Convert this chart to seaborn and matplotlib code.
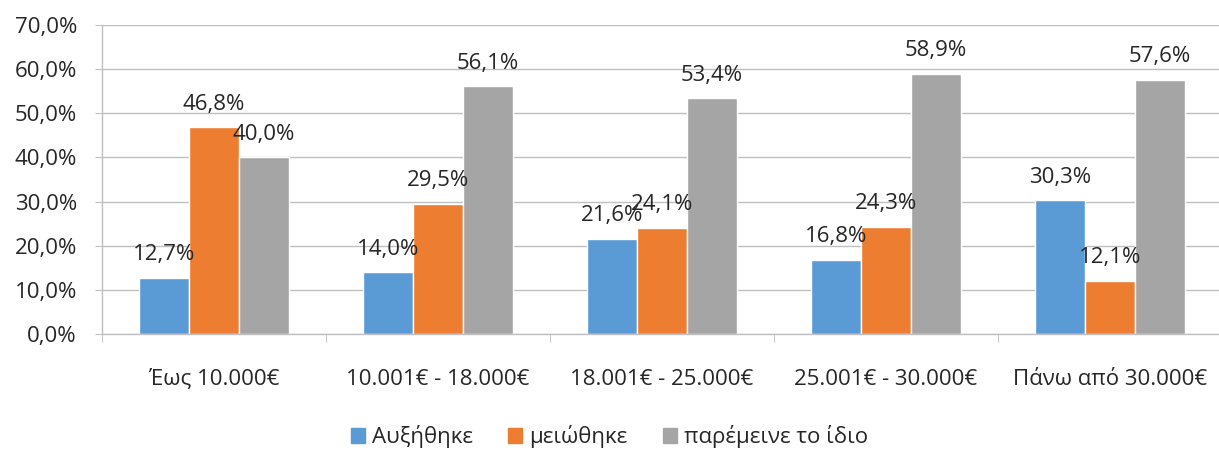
import pandas as pd
import matplotlib.pyplot as plt
import seaborn as sns
from matplotlib.ticker import FuncFormatter, FixedLocator

# Data
categories = ["Έως 10.000€", "10.001€ - 18.000€", "18.001€ - 25.000€",
              "25.001€ - 30.000€", "Πάνω από 30.000€"]
series_names = ["Αυξήθηκε", "μειώθηκε", "παρέμεινε το ίδιο"]
increased = [12.7, 14.0, 21.6, 16.8, 30.3]
decreased = [46.8, 29.5, 24.1, 24.3, 12.1]
same = [40.0, 56.1, 53.4, 58.9, 57.6]
colors = ["#5B9BD5", "#ED7D31", "#A5A5A5"]

rows = []
for name, vals in zip(series_names, [increased, decreased, same]):
    for cat, v in zip(categories, vals):
        rows.append({"category": cat, "series": name, "value": v})
df = pd.DataFrame(rows)

sns.set_style("white")
plt.rcParams["font.family"] = ["Open Sans", "DejaVu Sans"]
FS = 16

fig = plt.figure(figsize=(12.19, 4.55), dpi=100)
ax = fig.add_axes([102 / 1219, 1 - 334 / 455, 1120 / 1219, (334 - 25) / 455])

sns.barplot(data=df, x="category", y="value", hue="series", order=categories,
            hue_order=series_names, palette=colors, width=0.67, gap=0,
            saturation=1, ax=ax, legend=False)

for cont in ax.containers:
    ax.bar_label(cont, labels=[f"{v:.1f}%".replace(".", ",") for v in cont.datavalues],
                 padding=9, fontsize=FS)

ax.set_ylim(0, 70)
ax.set_xlim(-0.5, 4.5)
ax.set_yticks(range(0, 71, 10))
ax.yaxis.set_major_formatter(FuncFormatter(lambda v, p: f"{v:.1f}%".replace(".", ",")))
ax.yaxis.grid(True, color="#BFBFBF", linewidth=1)
ax.set_axisbelow(True)
ax.tick_params(axis="y", length=5, pad=13, color="#BFBFBF", labelsize=FS,
               direction="out", left=True)
ax.tick_params(axis="x", which="major", length=0, pad=25, labelsize=FS)
ax.xaxis.set_minor_locator(FixedLocator([-0.5, 0.5, 1.5, 2.5, 3.5, 4.5]))
ax.tick_params(axis="x", which="minor", length=6, color="#BFBFBF", direction="out", bottom=True)
ax.set_xlabel("")
ax.set_ylabel("")
for s in ["top", "right"]:
    ax.spines[s].set_visible(False)
for s in ["left", "bottom"]:
    ax.spines[s].set_color("#BFBFBF")
    ax.spines[s].set_linewidth(1)

handles = [plt.Rectangle((0, 0), 1, 1, color=c) for c in colors]
fig.legend(handles, series_names, loc="center", bbox_to_anchor=(0.5, 1 - 437 / 455),
           ncol=3, frameon=False, fontsize=FS, handlelength=0.63, handleheight=0.63,
           handletextpad=0.3, columnspacing=1.6)

plt.savefig("out.png", dpi=100)
